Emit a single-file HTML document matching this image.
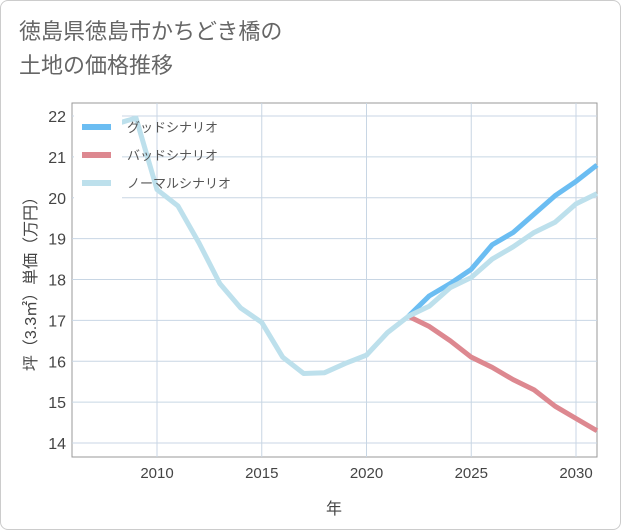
<!DOCTYPE html>
<html><head><meta charset="utf-8"><style>
body{margin:0;background:#fff;}
#wrap{position:relative;width:619px;height:528px;border:1px solid #ccc;border-radius:8px;overflow:hidden;background:#fff;font-family:"Liberation Sans","Noto Sans CJK JP",sans-serif;}
.title{position:absolute;left:18px;top:14px;font-size:22px;line-height:34px;color:#666;}
</style></head><body>
<div id="wrap">
<div class="title">徳島県徳島市かちどき橋の<br>土地の価格推移</div>
<svg id="chart" width="621" height="530" style="position:absolute;left:-1px;top:-1px"></svg>
</div>
<script>
const years=[2008,2009,2010,2011,2012,2013,2014,2015,2016,2017,2018,2019,2020,2021,2022,2023,2024,2025,2026,2027,2028,2029,2030,2031];
const normal=[21.8,21.95,20.2,19.8,18.9,17.9,17.3,16.95,16.1,15.7,15.72,15.95,16.15,16.7,17.1,17.35,17.8,18.05,18.5,18.8,19.15,19.4,19.85,20.1];
const goodYears=[2022,2023,2024,2025,2026,2027,2028,2029,2030,2031];
const good=[17.1,17.6,17.9,18.25,18.85,19.15,19.6,20.05,20.4,20.8];
const bad=[17.1,16.85,16.5,16.1,15.85,15.55,15.3,14.9,14.6,14.3];
const xTicks=[2010,2015,2020,2025,2030];
const yTicks=[14,15,16,17,18,19,20,21,22];
const L=72,R=597,T=103,B=457;
const x=v=>157+(v-2010)*20.95;
const y=v=>443-(v-14)*40.875;
const svg=document.getElementById('chart');const NS='http://www.w3.org/2000/svg';
function mk(t,a,p){const e=document.createElementNS(NS,t);for(const k in a)e.setAttribute(k,a[k]);(p||svg).appendChild(e);return e;}
const bg=mk('rect',{x:L,y:T,width:R-L,height:B-T,fill:'#fff',stroke:'#999'});

xTicks.forEach(t=>{const g=mk('line',{x1:x(t),x2:x(t),y1:T,y2:B,stroke:'#c8d6e4'});
const tx=mk('text',{x:x(t),y:478,'text-anchor':'middle','font-size':15,fill:'#444'});tx.textContent=t;});
yTicks.forEach(t=>{const g=mk('line',{x1:L,x2:R,y1:y(t),y2:y(t),stroke:'#c8d6e4'});
const tx=mk('text',{x:66,y:y(t)+6,'text-anchor':'end','font-size':16,fill:'#444'});tx.textContent=t;});
function line(xs,vs,c,n){const p=mk('polyline',{points:xs.map((t,i)=>x(t)+','+y(vs[i])).join(' '),fill:'none',stroke:c,'stroke-width':5,'stroke-linejoin':'round'});}
line(goodYears,bad,'#dd8890','bad-scenario-line');
line(goodYears,good,'#6bbdf2','good-scenario-line');
line(years,normal,'#bde0ec','normal-scenario-line');
const lg=mk('rect',{x:74,y:110,width:48,height:90,fill:'#fff'});
[['グッドシナリオ','#6bbdf2'],['バッドシナリオ','#dd8890'],['ノーマルシナリオ','#bde0ec']].forEach((d,i)=>{const yy=127+i*28;
const l=mk('line',{x1:82,x2:111,y1:yy,y2:yy,stroke:d[1],'stroke-width':6});
const t=mk('text',{x:127,y:yy+5,'font-size':13,fill:'#555'});t.textContent=d[0];});
const xt=mk('text',{x:334,y:514,'text-anchor':'middle','font-size':16,fill:'#444'});xt.textContent='年';
const yt=mk('text',{x:0,y:0,'text-anchor':'middle','font-size':16,fill:'#444',transform:'translate(36,280) rotate(-90)'});yt.textContent='坪（3.3㎡）単価（万円）';
</script>
</body></html>
